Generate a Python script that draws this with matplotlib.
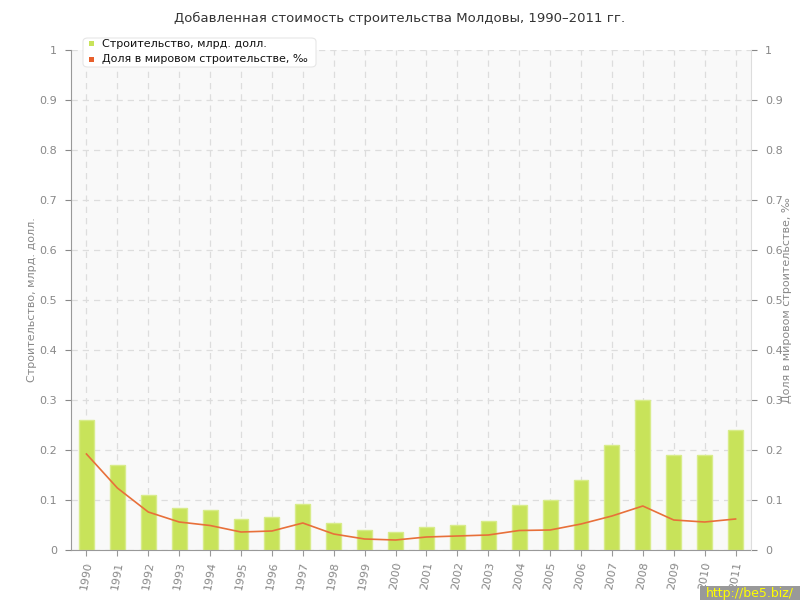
import matplotlib
matplotlib.use("Agg")
import matplotlib.pyplot as plt
from matplotlib.patches import FancyBboxPatch

years = ["1990", "1991", "1992", "1993", "1994", "1995", "1996", "1997", "1998", "1999", "2000",
         "2001", "2002", "2003", "2004", "2005", "2006", "2007", "2008", "2009", "2010", "2011"]
construction = [0.26, 0.17, 0.11, 0.084, 0.08, 0.062, 0.066, 0.092, 0.054, 0.04, 0.036,
                0.046, 0.05, 0.058, 0.09, 0.10, 0.14, 0.21, 0.30, 0.19, 0.19, 0.24]
share = [0.192, 0.124, 0.076, 0.056, 0.049, 0.036, 0.038, 0.054, 0.032, 0.022, 0.020,
         0.026, 0.028, 0.030, 0.039, 0.040, 0.052, 0.068, 0.088, 0.060, 0.056, 0.062]
yticks = [0, 0.1, 0.2, 0.3, 0.4, 0.5, 0.6, 0.7, 0.8, 0.9, 1]
yticklabels = ["0", "0.1", "0.2", "0.3", "0.4", "0.5", "0.6", "0.7", "0.8", "0.9", "1"]

title = "Добавленная стоимость строительства Молдовы, 1990–2011 гг."
label_bar = "Строительство, млрд. долл."
label_line = "Доля в мировом строительстве, ‰"

plt.rcParams['font.family'] = ['DejaVu Sans']
fig = plt.figure(figsize=(8, 6), dpi=100)
ax = fig.add_axes([71/800, 50/600, 680/800, 500/600])
ax.set_facecolor("#f9f9f9")

x = list(range(len(years)))
ax.bar(x, construction, width=0.48, color="#c8e35a", edgecolor="#d8ec8a", linewidth=1, zorder=2)
ax2 = ax.twinx()
ax2.plot(x, share, color="#e8703a", linewidth=1.2, zorder=3)

for a in (ax, ax2):
    a.set_ylim(0, 1)
    a.set_xlim(-0.5, len(years) - 0.5)
    a.set_yticks(yticks)
    a.set_yticklabels(yticklabels)
    a.tick_params(axis='y', colors="#888888", labelsize=8, length=4, width=0.8, direction='out', pad=6)
    for s in a.spines.values():
        s.set_visible(False)

ax.spines['left'].set_visible(True)
ax.spines['left'].set_color("#999999")
ax.spines['bottom'].set_visible(True)
ax.spines['bottom'].set_color("#999999")
ax2.spines['right'].set_visible(True)
ax2.spines['right'].set_color("#dddddd")

ax.set_xticks(x)
ax.set_xticklabels(years, rotation=80, fontsize=8, color="#888888")
ax.tick_params(axis='x', colors="#999999", length=4, width=0.8, labelcolor="#888888")
ax.grid(True, color="#dddddd", linestyle=(0, (5, 4)), linewidth=0.9, zorder=0)
ax.set_axisbelow(True)

fig.text(32/800, 0.5, label_bar, color="#888888", fontsize=8, rotation=90, ha='center', va='center')
fig.text(787/800, 0.5, label_line, color="#888888", fontsize=8, rotation=90, ha='center', va='center')

fig.text(0.5, 1 - 18/600, title, ha='center', va='center', fontsize=9.5, color="#333333")

# legend box
leg = FancyBboxPatch((83/800, 1 - 67/600), 233/800, 29/600,
                     boxstyle="round,pad=0,rounding_size=0.006",
                     transform=fig.transFigure, facecolor="white",
                     edgecolor="#e6e6e6", linewidth=0.8, zorder=5)
fig.patches.append(leg)
fig.patches.append(plt.Rectangle((89/800, 1 - 46/600), 5/800, 5/600, transform=fig.transFigure,
                                 facecolor="#c8e35a", edgecolor="none", zorder=6))
fig.patches.append(plt.Rectangle((89/800, 1 - 62/600), 5/800, 5/600, transform=fig.transFigure,
                                 facecolor="#e8602c", edgecolor="none", zorder=6))
fig.text(102/800, 1 - 44/600, label_bar, fontsize=8, va='center', color="#111111", zorder=7)
fig.text(102/800, 1 - 59/600, label_line, fontsize=8, va='center', color="#111111", zorder=7)

# watermark
fig.patches.append(plt.Rectangle((700/800, 0), 100/800, 14/600, transform=fig.transFigure,
                                 facecolor="#999999", edgecolor="none", zorder=8))
fig.text(750/800, 7/600, "http://be5.biz/", fontsize=9, color="#ffff00", ha='center', va='center', zorder=9)

fig.savefig("out.png", dpi=100)
